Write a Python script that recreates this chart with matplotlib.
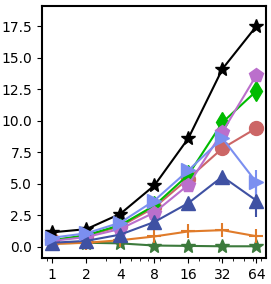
import matplotlib.pyplot as plt
import numpy as np
from matplotlib.ticker import NullFormatter

x = [1, 2, 4, 8, 16, 32, 64]

black_star = [1.13, 1.38, 2.6, 4.85, 8.6, 14.1, 17.5]
violet_pent = [0.45, 0.75, 1.4, 2.7, 4.9, 9.1, 13.6]
green_diam = [0.5, 0.9, 1.7, 3.25, 5.7, 9.85, 12.35]
red_circ = [0.5, 0.85, 1.6, 3.1, 5.4, 7.8, 9.4]
blue_tri = [0.7, 1.05, 1.9, 3.65, 6.05, 8.6, 5.1]
blue_tri_err = [0, 0, 0, 0, 0, 0, 1.0]
navy_tri = [0.3, 0.45, 0.95, 1.95, 3.45, 5.55, 3.65]
navy_tri_err = [0, 0, 0, 0, 0, 0, 1.3]
orange_plus = [0.2, 0.3, 0.5, 0.8, 1.2, 1.3, 0.82]
dkgreen_star = [0.25, 0.3, 0.25, 0.08, 0.05, 0.02, 0.02]

fig = plt.figure(figsize=(2.71, 2.84), dpi=100)
ax = fig.add_axes([0.155, 0.092, 0.827, 0.887])

ax.plot(x, dkgreen_star, marker='*', color='#3c7a3c', ms=10, lw=1.5)
ax.errorbar(x, orange_plus, marker='+', color='#e07b2a', ms=10, mew=1.5, lw=1.5)
ax.errorbar(x, navy_tri, yerr=navy_tri_err, marker='^', color='#3f51a3', ms=10, lw=1.5)
ax.errorbar(x, blue_tri, yerr=blue_tri_err, marker='>', color='#7b8ff0', ms=10, lw=1.5)
ax.plot(x, red_circ, marker='o', color='#cc6666', ms=10, lw=1.5)
ax.plot(x, green_diam, marker='d', color='#00bb00', ms=10, lw=1.5)
ax.plot(x, violet_pent, marker='p', color='#bb6fcc', ms=10, lw=1.5)
ax.plot(x, black_star, marker='*', color='black', ms=10, lw=1.5)

ax.set_xscale('log')
ax.set_xticks(x)
ax.set_xticklabels([str(v) for v in x])
ax.xaxis.set_minor_formatter(NullFormatter())
ax.set_xlim(0.81, 78)
ax.set_ylim(-0.9, 19.1)
ax.set_yticks(np.arange(0, 17.6, 2.5))
for s in ax.spines.values():
    s.set_linewidth(1.5)
ax.tick_params(labelsize=10)

fig.savefig('out.png', dpi=100)
